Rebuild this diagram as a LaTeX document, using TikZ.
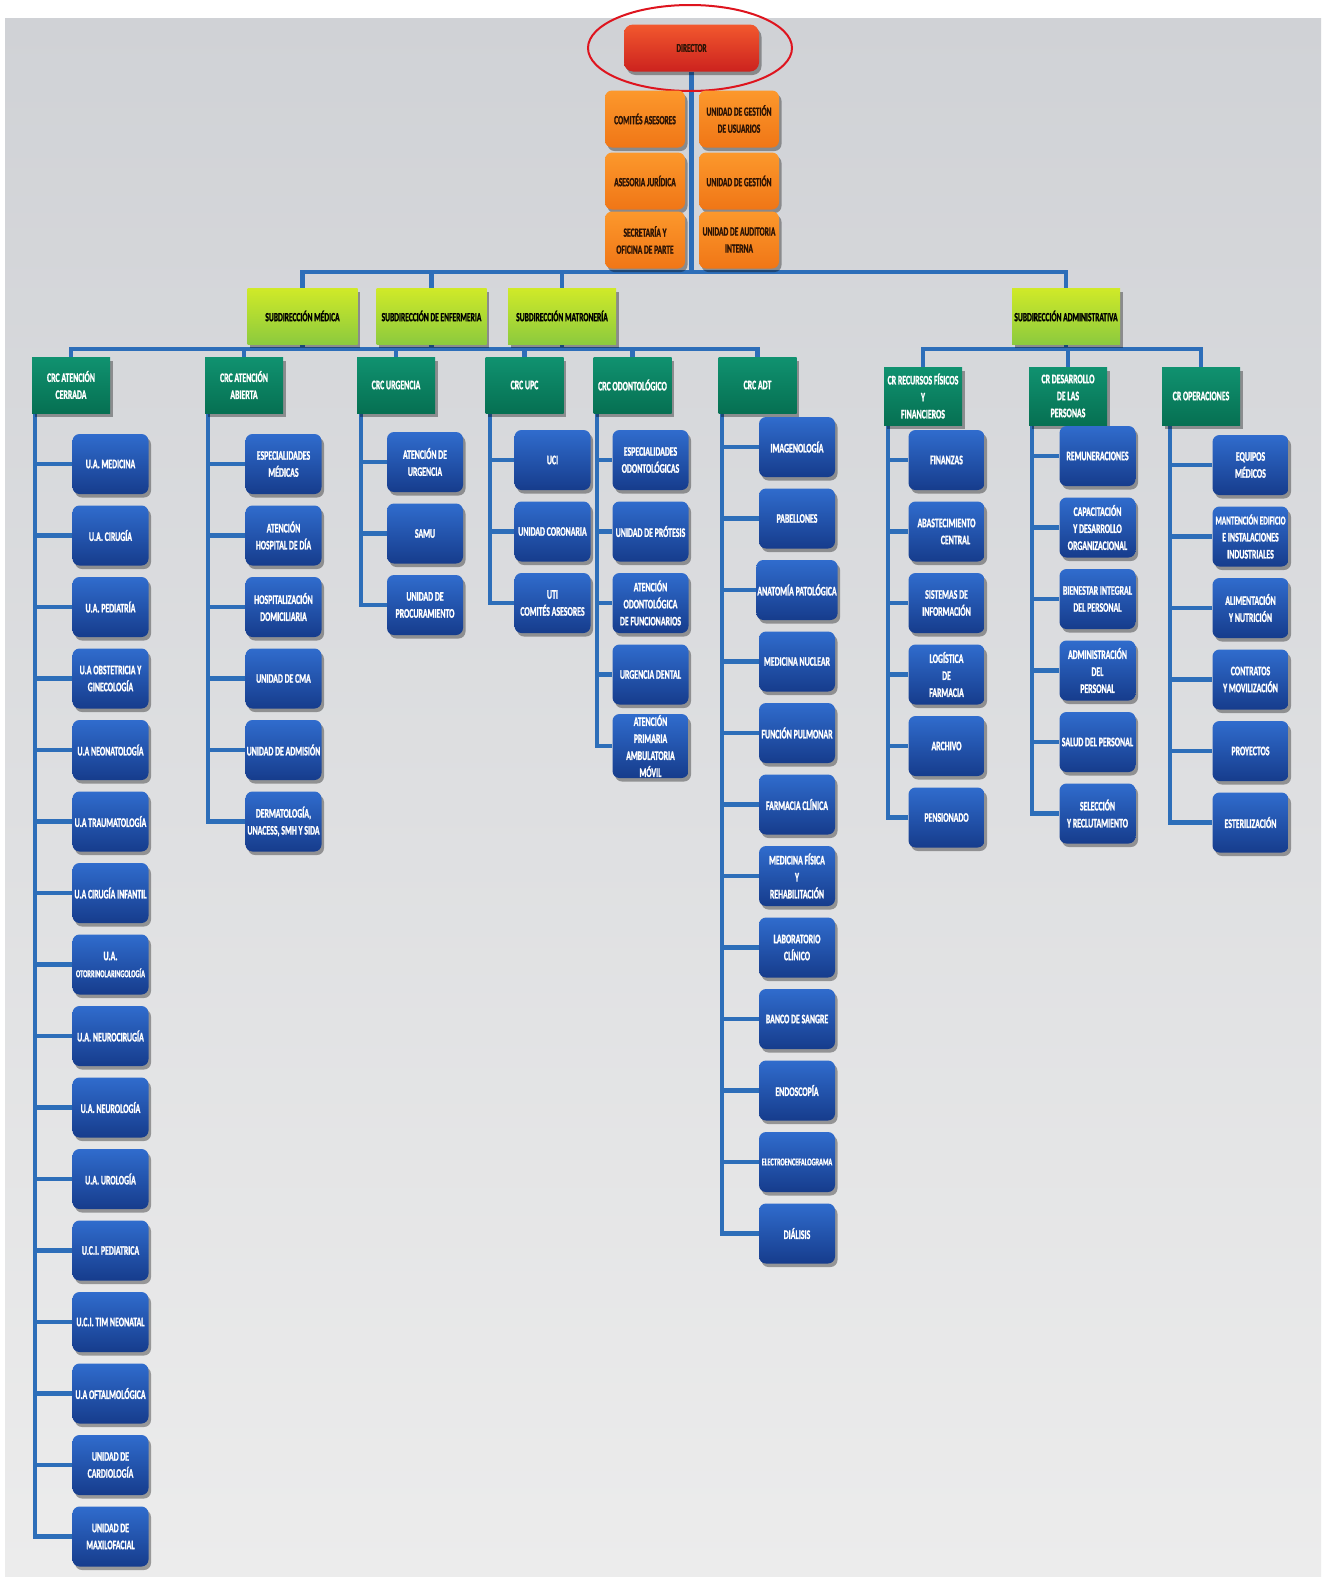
\documentclass[tikz,border=0pt]{standalone}
\usepackage{fontspec}
\newfontfamily\lab{Carlito}[FakeStretch=0.6, FakeBold=1.2]
\usetikzlibrary{shadows,calc,shapes.geometric}
\pgfdeclarelayer{panel}\pgfdeclarelayer{wires}
\pgfsetlayers{panel,wires,main}
\definecolor{wire}{RGB}{45,110,185}
\definecolor{blueT}{RGB}{48,108,205}
\definecolor{blueB}{RGB}{22,60,140}
\definecolor{greenT}{RGB}{16,146,112}
\definecolor{greenB}{RGB}{6,112,82}
\definecolor{limeT}{RGB}{208,234,40}
\definecolor{limeB}{RGB}{140,202,62}
\definecolor{orT}{RGB}{252,152,44}
\definecolor{orB}{RGB}{240,118,22}
\definecolor{redT}{RGB}{242,88,46}
\definecolor{redB}{RGB}{204,34,30}
\definecolor{ringred}{RGB}{222,20,30}
\definecolor{panT}{RGB}{208,210,214}
\definecolor{panB}{RGB}{236,236,236}
\definecolor{darktxt}{RGB}{45,20,5}
\newcommand\smallerlab{\fontsize{10.5}{15}\selectfont}
\newcommand\midlab{\fontsize{12}{15.5}\selectfont}
\tikzset{
  conn/.style={draw=wire, line width=4.5pt},
  shad/.style={drop shadow={shadow xshift=2.5pt,shadow yshift=-3.5pt,fill=black,opacity=0.35}},
  ubox/.style={rectangle, rounded corners=7pt, minimum width=76pt, minimum height=60pt,
    inner sep=1pt, align=center, text=white, top color=blueT, bottom color=blueB, shad,
    font=\lab\bfseries\fontsize{13}{17}\selectfont},
  crcbox/.style={rectangle, minimum width=78pt, minimum height=56pt,
    inner sep=1pt, align=center, text=white, top color=greenT, bottom color=greenB, shad,
    font=\lab\bfseries\fontsize{13}{17}\selectfont},
  subbox/.style={rectangle, minimum width=110pt, minimum height=56pt,
    inner sep=1pt, align=center, text=black, top color=limeT, bottom color=limeB, shad,
    font=\lab\bfseries\fontsize{12.5}{16}\selectfont},
  obox/.style={rectangle, rounded corners=7pt, minimum width=80pt, minimum height=57pt,
    inner sep=1pt, align=center, text=darktxt, top color=orT, bottom color=orB, shad,
    font=\lab\bfseries\fontsize{12.5}{17}\selectfont},
  dirbox/.style={rectangle, rounded corners=9pt, minimum width=135pt, minimum height=47pt,
    inner sep=1pt, align=center, text=darktxt, top color=redT, bottom color=redB, shad,
    font=\lab\bfseries\fontsize{12}{14}\selectfont},
  ringnode/.style={ellipse, draw=ringred, line width=2pt, minimum width=204pt, minimum height=86pt, inner sep=0pt}
}
\begin{document}
\begin{tikzpicture}[x=1pt,y=-1pt]
\useasboundingbox (0,0) rectangle (1325,1577);
\begin{pgfonlayer}{panel}
\fill[white] (0,0) rectangle (1325,1577);
\fill[top color=panT, bottom color=panB] (5,18) rectangle (1321,1577);
\end{pgfonlayer}

% top
\node[dirbox] (dir) at (691.5,48) {DIRECTOR};
\node[ringnode] (ring) at (690,48) {};
\node[obox] (o1) at (645,119) {COMITÉS ASESORES};
\node[obox] (o2) at (739,119) {UNIDAD DE GESTIÓN\\DE USUARIOS};
\node[obox] (o3) at (645,181) {ASESORIA JURÍDICA};
\node[obox] (o4) at (739,181) {UNIDAD DE GESTIÓN};
\node[obox] (o5) at (645,240) {SECRETARÍA Y\\OFICINA DE PARTE};
\node[obox] (o6) at (739,240) {UNIDAD DE AUDITORIA\\INTERNA};

% subdirections
\node[subbox] (subM) at (302.5,316) {SUBDIRECCIÓN MÉDICA};
\node[subbox] (subE) at (431.5,316) {SUBDIRECCIÓN DE ENFERMERIA};
\node[subbox, minimum width=108pt] (subT) at (562,316) {SUBDIRECCIÓN MATRONERÍA};
\node[subbox, minimum width=108pt] (subA) at (1066,316) {SUBDIRECCIÓN ADMINISTRATIVA};

% CRC
\node[crcbox] (crcA) at (71,385) {CRC ATENCIÓN\\CERRADA};
\node[crcbox] (crcB) at (244,385) {CRC ATENCIÓN\\ABIERTA};
\node[crcbox] (crcC) at (396,385) {CRC URGENCIA};
\node[crcbox] (crcD) at (524.5,385) {CRC UPC};
\node[crcbox] (crcE) at (632.5,385) {CRC ODONTOLÓGICO};
\node[crcbox] (crcF) at (757.5,385) {CRC ADT};
\node[crcbox, minimum height=58pt] (crcG) at (923,396) {CR RECURSOS FÍSICOS\\Y\\FINANCIEROS};
\node[crcbox, minimum height=58pt] (crcH) at (1068,396) {CR DESARROLLO\\DE LAS\\PERSONAS};
\node[crcbox, minimum height=58pt] (crcI) at (1201,396) {CR OPERACIONES};

% units
\foreach \t [count=\k from 0] in {{U.A. MEDICINA},{U.A. CIRUGÍA},{U.A. PEDIATRÍA},{U.A OBSTETRICIA Y\\GINECOLOGÍA},{U.A NEONATOLOGÍA},{U.A TRAUMATOLOGÍA},{U.A CIRUGÍA INFANTIL},{U.A.\\\smallerlab OTORRINOLARINGOLOGÍA},{U.A. NEUROCIRUGÍA},{U.A. NEUROLOGÍA},{U.A. UROLOGÍA},{U.C.I. PEDIATRICA},{U.C.I. TIM NEONATAL},{U.A OFTALMOLÓGICA},{UNIDAD DE\\CARDIOLOGÍA},{UNIDAD DE\\MAXILOFACIAL}}
  \node[ubox] (a\k) at (110.5,{464+71.5*\k}) {\t};
\foreach \t [count=\k from 0] in {{ESPECIALIDADES\\MÉDICAS},{ATENCIÓN\\HOSPITAL DE DÍA},{HOSPITALIZACIÓN\\DOMICILIARIA},{UNIDAD DE CMA},{UNIDAD DE ADMISIÓN},{DERMATOLOGÍA,\\UNACESS, SMH Y SIDA}}
  \node[ubox] (b\k) at (283.5,{464+71.5*\k}) {\t};
\foreach \t [count=\k from 0] in {{ATENCIÓN DE\\URGENCIA},{SAMU},{UNIDAD DE\\PROCURAMIENTO}}
  \node[ubox] (c\k) at (425,{462+71.5*\k}) {\t};
\foreach \t [count=\k from 0] in {{UCI},{UNIDAD CORONARIA},{UTI\\COMITÉS ASESORES}}
  \node[ubox] (d\k) at (552.5,{460+71.5*\k}) {\t};
\foreach \t [count=\k from 0] in {{ESPECIALIDADES\\ODONTOLÓGICAS},{UNIDAD DE PRÓTESIS},{ATENCIÓN\\ODONTOLÓGICA\\DE FUNCIONARIOS},{URGENCIA DENTAL},{\fontsize{13}{14.5}\selectfont ATENCIÓN\\PRIMARIA\\AMBULATORIA\\MÓVIL}}
  \node[ubox] (e\k) at (650.5,{460+71.5*\k}) {\t};
\foreach \t [count=\k from 0] in {{IMAGENOLOGÍA},{PABELLONES},{ANATOMÍA PATOLÓGICA},{MEDICINA NUCLEAR},{FUNCIÓN PULMONAR},{FARMACIA CLÍNICA},{MEDICINA FÍSICA\\Y\\REHABILITACIÓN},{LABORATORIO\\CLÍNICO},{BANCO DE SANGRE},{ENDOSCOPÍA},{\smallerlab ELECTROENCEFALOGRAMA},{DIÁLISIS}}
  \node[ubox] (f\k) at (797,{447+71.5*\k}) {\t};
\foreach \t [count=\k from 0] in {{FINANZAS},{ABASTECIMIENTO\\\hspace*{18pt}CENTRAL},{SISTEMAS DE\\INFORMACIÓN},{LOGÍSTICA\\DE\\FARMACIA},{ARCHIVO},{PENSIONADO}}
  \node[ubox] (g\k) at (946.5,{460+71.5*\k}) {\t};
\foreach \t [count=\k from 0] in {{REMUNERACIONES},{CAPACITACIÓN\\Y DESARROLLO\\ORGANIZACIONAL},{BIENESTAR INTEGRAL\\DEL PERSONAL},{ADMINISTRACIÓN\\DEL\\PERSONAL},{SALUD DEL PERSONAL},{SELECCIÓN\\Y RECLUTAMIENTO}}
  \node[ubox] (h\k) at (1097.5,{456+71.5*\k}) {\t};
\foreach \t [count=\k from 0] in {{EQUIPOS\\MÉDICOS},{\midlab MANTENCIÓN EDIFICIO\\E INSTALACIONES\\INDUSTRIALES},{ALIMENTACIÓN\\Y NUTRICIÓN},{CONTRATOS\\Y MOVILIZACIÓN},{PROYECTOS},{ESTERILIZACIÓN}}
  \node[ubox] (i\k) at (1250.5,{465+71.5*\k}) {\t};

\coordinate (tb) at (691.5,272);
\coordinate (mb) at (0,349);

\begin{pgfonlayer}{wires}
\draw[conn] (dir.south) -- (dir.south |- tb);
\draw[conn] (subM.north) |- (tb) -- (tb -| subA.north) -- (subA.north);
\draw[conn] (subE.north) -- (subE.north |- tb);
\draw[conn] (subT.north) -- (subT.north |- tb);
% medical bar
\draw[conn] (crcA.north) |- (mb -| crcF.north) -- (crcF.north);
\foreach \n in {crcB,crcC,crcD,crcE} \draw[conn] (\n.north) -- (\n.north |- mb);
\foreach \n in {subM,subE,subT} \draw[conn] (\n.south) -- (\n.south |- mb);
% admin bar
\draw[conn] (crcG.north) |- (mb -| crcI.north) -- (crcI.north);
\draw[conn] (crcH.north) -- (crcH.north |- mb);
\draw[conn] (subA.south) -- (subA.south |- mb);
% spines
\foreach \k in {0,...,15} \draw[conn] ([xshift=3pt]crcA.south west) |- (a\k.west);
\foreach \k in {0,...,5} \draw[conn] ([xshift=3pt]crcB.south west) |- (b\k.west);
\foreach \k in {0,...,2} \draw[conn] ([xshift=4pt]crcC.south west) |- (c\k.west);
\foreach \k in {0,...,2} \draw[conn] ([xshift=4.5pt]crcD.south west) |- (d\k.west);
\foreach \k in {0,...,4} \draw[conn] ([xshift=3.5pt]crcE.south west) |- (e\k.west);
\foreach \k in {0,...,11} \draw[conn] ([xshift=3.5pt]crcF.south west) |- (f\k.west);
\foreach \k in {0,...,5} \draw[conn] ([xshift=4pt]crcG.south west) |- (g\k.west);
\foreach \k in {0,...,5} \draw[conn] ([xshift=3pt]crcH.south west) |- (h\k.west);
\foreach \k in {0,...,5} \draw[conn] ([xshift=8pt]crcI.south west) |- (i\k.west);
\end{pgfonlayer}
\end{tikzpicture}
\end{document}
